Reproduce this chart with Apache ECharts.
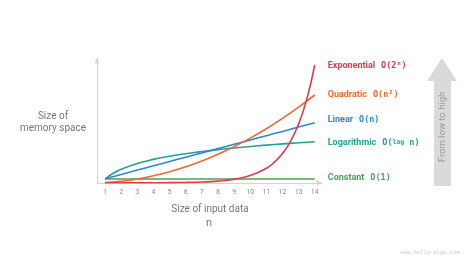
<!DOCTYPE html>
<html><head><meta charset="utf-8">
<script src="https://cdn.jsdelivr.net/npm/echarts@6/dist/echarts.min.js"></script>
<style>html,body{margin:0;padding:0;background:#fff}#c{width:474px;height:266px}</style>
</head><body><div id="c"></div>
<script>
// Data (heights, y-axis units = 0..125)
var nTicks = [1,2,3,4,5,6,7,8,9,10,11,12,13,14];
var nExp = [1,2,3,4,5,6,7,8,9,10,11,11.5,12,12.5,13,13.5,14];
var expValues = [0.3,0.3,0.3,0.3,0.4,0.6,1.0,1.9,3.7,7.4,14.7,20.9,29.5,41.7,59,83.4,118];
var quadValues = [0.45,1.8,4.0,7.2,11.2,16.2,22,28.7,36.4,44.9,54.3,64.7,75.9,88];
var linValues = [4.3,8.6,12.9,17.2,21.5,25.8,30.1,34.4,38.7,43,47.3,51.6,55.9,60.2];
var nLog = [1,1.5,2,3,4,5,6,7,8,9,10,11,12,13,14];
var logValues = [4.0,9.7,13.8,19.5,23.6,26.7,29.3,31.5,33.4,35.0,36.5,37.9,39.1,40.2,41.3];
var constValues = [4,4,4,4,4,4,4,4,4,4,4,4,4,4];

function pairs(xs, ys){ return xs.map(function(x,i){ return [x, ys[i]]; }); }

var C = { exp:'#e23a4c', quad:'#f2672f', lin:'#2d87d3', log:'#26a08f', cst:'#4f9e55' };
function lbl(name, big, color, off){
  return { show:true, distance:13, offset: off || [0,0],
    formatter:'{a|'+name+'}{g| }'+big,
    rich:{ a:{ fontFamily:'Roboto', fontWeight:'bold', fontSize:9, color:color },
           g:{ width:6, fontSize:9 },
           b:{ fontFamily:'DejaVu Sans Mono', fontWeight:'bold', fontSize:8.5, color:color },
           c:{ fontFamily:'DejaVu Sans Mono', fontWeight:'bold', fontSize:6.5, color:color } } };
}
function ser(name, data, color, label){
  return { name:name, type:'line', smooth:true, symbol:'none', data:data,
    lineStyle:{ width:1.6, color:color }, endLabel: label, z:2, animation:false };
}

var chart = echarts.init(document.getElementById('c'), null, {renderer:'canvas'});
chart.setOption({
  animation:false,
  grid:{ left:97, right:152, top:58, bottom:83 },
  xAxis:{ type:'value', min:0.5, max:14.45,
    axisLine:{ show:true, lineStyle:{ color:'#d4d4d4', width:1 }, symbol:['none','arrow'], symbolSize:[4,6] },
    axisTick:{ show:false }, splitLine:{ show:false },
    axisLabel:{ customValues:nTicks, color:'#8a8a8a', fontSize:7, fontFamily:'Roboto', margin:6 } },
  yAxis:{ type:'value', min:0, max:125,
    axisLine:{ show:true, lineStyle:{ color:'#d4d4d4', width:1 }, symbol:['none','arrow'], symbolSize:[4,6] },
    axisTick:{ show:false }, axisLabel:{ show:false }, splitLine:{ show:false } },
  series:[
    ser('Constant', pairs(nTicks, constValues), C.cst, lbl('Constant','{b|O(1)}', C.cst, [0,-1])),
    ser('Logarithmic', pairs(nLog, logValues), C.log, lbl('Logarithmic','{b|O(}{c|log}{b| n)}', C.log, [0,1])),
    ser('Linear', pairs(nTicks, linValues), C.lin, lbl('Linear','{b|O(n)}', C.lin, [0,-3])),
    ser('Quadratic', pairs(nTicks, quadValues), C.quad, lbl('Quadratic','{b|O(n²)}', C.quad, [0,0])),
    ser('Exponential', pairs(nExp, expValues), C.exp, lbl('Exponential','{b|O(2ⁿ)}', C.exp, [0,1]))
  ],
  graphic:[
    { type:'text', x:53, y:122, style:{ text:'Size of\nmemory space', fill:'#777777', font:'10px Roboto', align:'center', verticalAlign:'middle', lineHeight:12 } },
    { type:'text', x:210, y:209, style:{ text:'Size of input data', fill:'#777777', font:'10px Roboto', align:'center', verticalAlign:'middle' } },
    { type:'text', x:209, y:223, style:{ text:'n', fill:'#777777', font:'11px Roboto', align:'center', verticalAlign:'middle' } },
    { type:'polygon', shape:{ points:[[442,58],[457,81],[451,81],[451,186],[434,186],[434,81],[427,81]] }, style:{ fill:'#dadada' } },
    { type:'text', x:443, y:127, rotation:Math.PI/2, style:{ text:'From low to high', fill:'#9a9a9a', font:'9.5px Roboto', align:'center', verticalAlign:'middle' } },
    { type:'text', x:430, y:253, style:{ text:'www.hello-algo.com', fill:'#c8c8c8', font:'5.5px DejaVu Sans Mono', align:'center', verticalAlign:'middle' } }
  ]
});
</script></body></html>
